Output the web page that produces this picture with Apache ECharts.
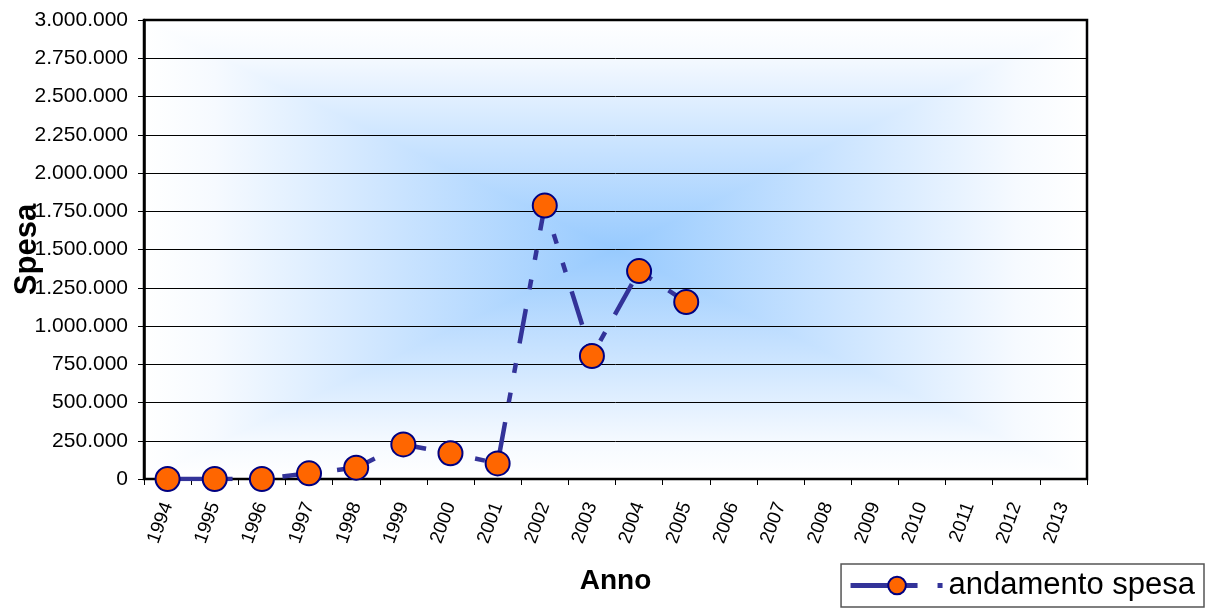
<!DOCTYPE html>
<html><head><meta charset="utf-8">
<script src="https://cdn.jsdelivr.net/npm/echarts@6/dist/echarts.min.js"></script>
<style>html,body{margin:0;padding:0;background:#fff}#c{width:1209px;height:613px}</style>
</head><body><div id="c"></div>
<script>
const years = ['1994','1995','1996','1997','1998','1999','2000','2001','2002','2003','2004','2005','2006','2007','2008','2009','2010','2011','2012','2013'];
const spesa = [0, 0, 0, 37000, 74000, 226000, 168000, 102000, 1787000, 804000, 1359000, 1157000, null, null, null, null, null, null, null, null];
const seriesName = 'andamento spesa';
const yMin = 0, yMax = 3000000, yStep = 250000;

function fmt(v){ return String(v).replace(/\B(?=(\d{3})+(?!\d))/g, '.'); }

const G = {left:144, top:20, width:943, height:459};
const W = G.width, H = G.height;
const CENTER = '#97cafe', EDGE = '#ffffff';
// rectangular "from centre" gradient: horizontal rects + top/bottom triangles
function stops(fromEdge){
  const s = [{offset:0,color:EDGE},{offset:0.15,color:'#f6faff'},{offset:0.55,color:'#c9e3ff'},{offset:1,color:CENTER}];
  return fromEdge ? s : s.map(o=>({offset:1-o.offset,color:o.color})).reverse();
}
const bg = [
  {type:'rect', x:G.left, y:G.top, z:-20, silent:true, shape:{x:0,y:0,width:W/2,height:H},
   style:{fill:{type:'linear',x:0,y:0,x2:1,y2:0,colorStops:stops(true)}}},
  {type:'rect', x:G.left+W/2, y:G.top, z:-20, silent:true, shape:{x:0,y:0,width:W/2,height:H},
   style:{fill:{type:'linear',x:0,y:0,x2:1,y2:0,colorStops:stops(false)}}},
  {type:'polygon', x:G.left, y:G.top, z:-19, silent:true, shape:{points:[[0,0],[W,0],[W/2,H/2]]},
   style:{fill:{type:'linear',x:0,y:0,x2:0,y2:1,colorStops:stops(true)}}},
  {type:'polygon', x:G.left, y:G.top, z:-19, silent:true, shape:{points:[[0,H],[W,H],[W/2,H/2]]},
   style:{fill:{type:'linear',x:0,y:0,x2:0,y2:1,colorStops:stops(false)}}}
];

const chart = echarts.init(document.getElementById('c'));
chart.setOption({
  animation:false,
  textStyle:{fontFamily:'Liberation Sans, Arial, sans-serif'},
  graphic:bg,
  grid:{left:G.left, top:G.top, width:G.width, height:G.height, show:true, borderColor:'#000', borderWidth:2.5,
        backgroundColor:'transparent', containLabel:false, outerBoundsMode:'none'},
  legend:{
    right:5, bottom:6, orient:'horizontal',
    data:[seriesName],
    itemWidth:93, itemHeight:22, itemGap:6,
    padding:[6,9,6,7],
    borderColor:'#555', borderWidth:1.5, backgroundColor:'#fff',
    lineStyle:{width:5, type:[67,20,5,100]},
    textStyle:{fontSize:31, color:'#000', fontFamily:'Liberation Sans, Arial, sans-serif'}
  },
  xAxis:{
    type:'category', data:years, boundaryGap:true,
    name:'Anno', nameLocation:'middle', nameGap:88,
    nameTextStyle:{fontSize:28, fontWeight:'bold', color:'#000'},
    axisLine:{lineStyle:{color:'#000', width:2}},
    axisTick:{show:true, interval:0, length:6, lineStyle:{color:'#000', width:1}},
    axisLabel:{interval:0, rotate:70, fontSize:19, color:'#000', margin:24}
  },
  yAxis:{
    type:'value', min:yMin, max:yMax, interval:yStep,
    name:'Spesa', nameLocation:'middle', nameGap:101, nameRotate:90, nameMoveOverlap:false,
    nameTextStyle:{fontSize:31, fontWeight:'bold', color:'#000'},
    axisLine:{show:true, lineStyle:{color:'#000', width:2.5}},
    axisTick:{show:true, length:6, lineStyle:{color:'#000'}},
    axisLabel:{fontSize:21, color:'#000', margin:16, formatter:fmt},
    splitLine:{show:true, lineStyle:{color:'#000', width:1}}
  },
  series:[{
    name:seriesName, type:'line', data:spesa,
    symbol:'circle', symbolSize:24,
    itemStyle:{color:'#ff6600', borderColor:'#000080', borderWidth:2},
    lineStyle:{color:'#333399', width:4.5, type:[35,20,10,20,10,20]},
    z:3
  }]
});
</script></body></html>
